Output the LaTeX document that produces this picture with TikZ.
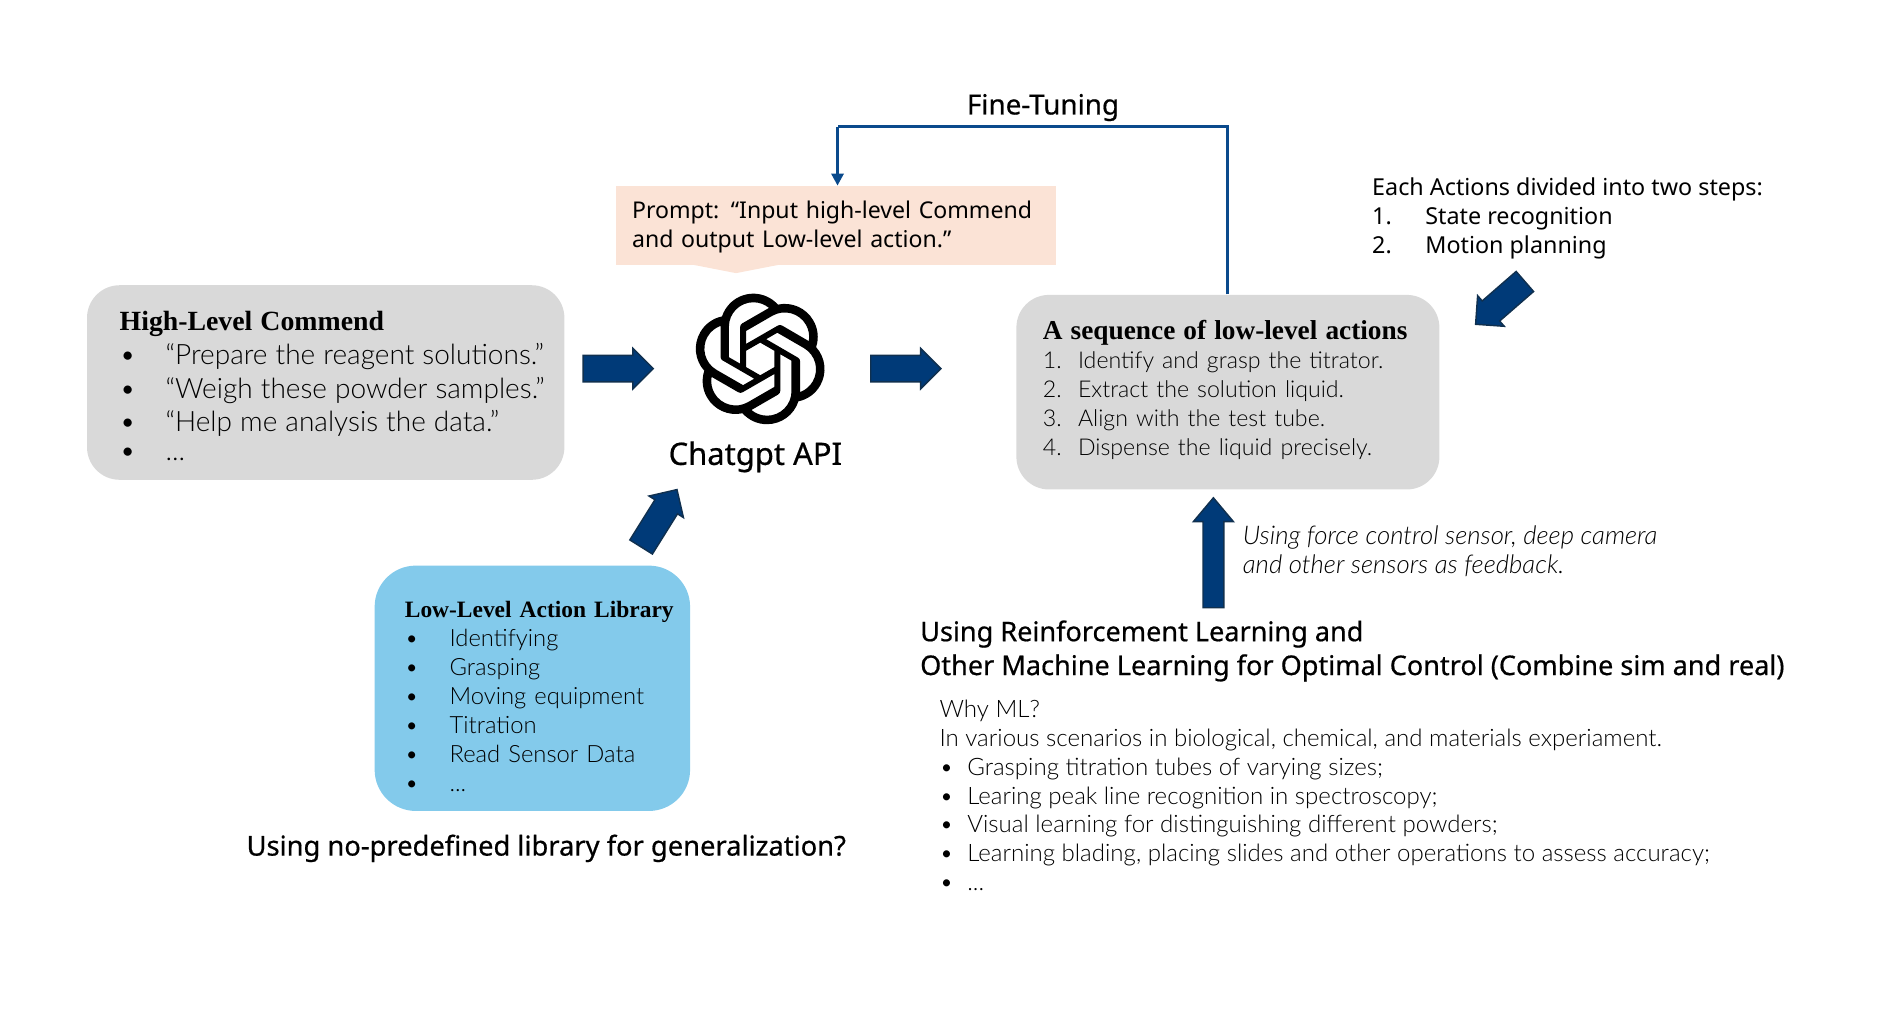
\documentclass[tikz,border=0pt]{standalone}
\usepackage{fontspec}
\setmainfont{Lato}[UprightFont=* Light, ItalicFont=* Light Italic, BoldFont=*]
\newfontfamily\headfont{Liberation Serif}[UprightFont=* Bold]
\newfontfamily\labelfont{Noto Sans}
\newfontfamily\medfont{Noto Sans}[FakeBold=0.6]
\usetikzlibrary{positioning,arrows.meta,shapes.arrows,svg.path}

\definecolor{boxgrey}{HTML}{D9D9D9}
\definecolor{libblue}{HTML}{83CAEB}
\definecolor{promptpink}{HTML}{FBE3D6}
\definecolor{arrowblue}{HTML}{003A78}
\definecolor{arrowedge}{HTML}{10304F}
\definecolor{tuneblue}{HTML}{0A4A8C}

\newcommand{\sized}[2]{\fontsize{#1}{#2}\selectfont}
\newcommand{\itemrow}[2]{\mbox{\makebox[#1][l]{\textbullet}#2}}
\newcommand{\numrow}[3]{\makebox[#1][l]{#2}#3}

\tikzset{
    cardbox/.style={fill=#1, rounded corners=13.5pt, align=left, inner xsep=13.5pt, inner ysep=0pt},
    blockarrow/.style={single arrow, fill=arrowblue, draw=arrowedge, line width=0.6pt, inner xsep=0pt, inner ysep=5.2pt,
        minimum width=16.5pt, minimum height=29pt, single arrow head extend=2.9pt,
        single arrow tip angle=90, single arrow head indent=0pt},
    plainlabel/.style={align=left, inner sep=0pt, anchor=north west},
    tuneline/.style={draw=tuneblue, line width=1.2pt},
}

\begin{document}
\begin{tikzpicture}[x=0.5pt, y=-0.5pt]
    \useasboundingbox (0,0) rectangle (1568,852);

    % command card and action library
    \node [cardbox=boxgrey, text width=170.5pt, minimum height=80.5pt] (high) at (269.5,316.5)
        {\sized{11.6}{14}\rule{0pt}{11pt}{\headfont\sized{11.5}{14}High-Level Commend}\\
         \itemrow{19pt}{“Prepare the reagent solutions.”}\\
         \itemrow{19pt}{“Weigh these powder samples.”}\\
         \itemrow{19pt}{“Help me analysis the data.”}\\
         \itemrow{19pt}{...}};
    \node [cardbox=libblue, rounded corners=17pt, inner xsep=12.5pt, text width=105.5pt, minimum height=101.5pt] (library) at (440.5,569.5)
        {\sized{9.85}{12}\rule{0pt}{13.5pt}\makebox[0pt][l]{\headfont\sized{9.7}{12}Low-Level Action Library}\\
         \itemrow{18.5pt}{Identifying}\\
         \itemrow{18.5pt}{Grasping}\\
         \itemrow{18.5pt}{Moving equipment}\\
         \itemrow{18.5pt}{Titration}\\
         \itemrow{18.5pt}{Read Sensor Data}\\
         \itemrow{18.5pt}{...}};
    \node [plainlabel, anchor=center, font={\medfont\sized{11.3}{14}}] (generalize) at (452,702) {Using no-predefined library for generalization?};

    % prompt and logo
    \node [fill=promptpink, minimum width=182pt, minimum height=32.5pt, inner sep=0pt, text width=169pt, align=left,
        font={\labelfont\sized{9.55}{12}}] (prompt) at (692,186.5)
        {\rule{0pt}{8.3pt}Prompt: “Input high-level Commend\\and output Low-level action.”};
    \fill [promptpink] (573,219) -- (609,226) -- (645,219) -- cycle;
    \begin{scope}[shift={(575,243)}]
        \fill [black, even odd rule] svg[scale=2.25,yscale=-1] "M 22.2819 9.8211 a 5.9847 5.9847 0 0 0 -0.5157 -4.9108 a 6.0462 6.0462 0 0 0 -6.5098 -2.9 A 6.0651 6.0651 0 0 0 4.9807 4.1818 a 5.9847 5.9847 0 0 0 -3.9977 2.9 a 6.0462 6.0462 0 0 0 0.7427 7.0966 a 5.98 5.98 0 0 0 0.511 4.9107 a 6.051 6.051 0 0 0 6.5146 2.9001 A 5.9847 5.9847 0 0 0 13.2599 24 a 6.0557 6.0557 0 0 0 5.7718 -4.2058 a 5.9894 5.9894 0 0 0 3.9977 -2.9001 a 6.0557 6.0557 0 0 0 -0.7475 -7.0729 z M 13.2599 22.4292 a 4.4755 4.4755 0 0 1 -2.8764 -1.0408 l 0.1419 -0.0804 l 4.7783 -2.7582 a 0.7948 0.7948 0 0 0 0.3927 -0.6813 v -6.7369 l 2.02 1.1686 a 0.071 0.071 0 0 1 0.038 0.052 v 5.5826 a 4.504 4.504 0 0 1 -4.4945 4.4944 z M 3.5992 18.3038 a 4.4708 4.4708 0 0 1 -0.5346 -3.0137 l 0.142 0.0852 l 4.783 2.7582 a 0.7712 0.7712 0 0 0 0.7806 0 l 5.8428 -3.3685 v 2.3324 a 0.0804 0.0804 0 0 1 -0.0332 0.0615 L 9.74 19.9502 a 4.4992 4.4992 0 0 1 -6.1408 -1.6464 z M 2.3408 7.8956 a 4.485 4.485 0 0 1 2.3655 -1.9728 V 11.6 a 0.7664 0.7664 0 0 0 0.3879 0.6765 l 5.8144 3.3543 l -2.0201 1.1685 a 0.0757 0.0757 0 0 1 -0.071 0 l -4.8303 -2.7865 A 4.504 4.504 0 0 1 2.3408 7.872 z M 18.9371 11.7514 L 13.1038 8.364 L 15.1192 7.2 a 0.0757 0.0757 0 0 1 0.071 0 l 4.8303 2.7913 a 4.4944 4.4944 0 0 1 -0.6765 8.1042 v -5.6772 a 0.79 0.79 0 0 0 -0.407 -0.667 z M 20.9478 8.7283 l -0.142 -0.0852 l -4.7735 -2.7818 a 0.7759 0.7759 0 0 0 -0.7854 0 L 9.409 9.2297 V 6.8974 a 0.0662 0.0662 0 0 1 0.0284 -0.0615 l 4.8303 -2.7866 a 4.4992 4.4992 0 0 1 6.6802 4.66 z M 8.3065 12.863 l -2.02 -1.1638 a 0.0804 0.0804 0 0 1 -0.038 -0.0567 V 6.0742 a 4.4992 4.4992 0 0 1 7.3757 -3.4537 l -0.142 0.0805 L 8.704 5.459 a 0.7948 0.7948 0 0 0 -0.3927 0.6813 z M 9.4041 10.4976 l 2.602 -1.4998 l 2.6069 1.4998 v 2.9994 l -2.5974 1.4997 l -2.6067 -1.4997 z";
    \end{scope}
    \node [plainlabel, anchor=center, font={\medfont\sized{12.8}{16}}] (api) at (625,378) {Chatgpt API};

    % low-level sequence with its notes
    \node [cardbox=boxgrey, inner xsep=11pt, text width=153pt, minimum height=80.5pt] (seq) at (1016,324.5)
        {\sized{9.58}{12}{\headfont\sized{11.3}{12}A sequence of low-level actions}\\
         \numrow{14.5pt}{1.}{Identify and grasp the titrator.}\\
         \numrow{14.5pt}{2.}{Extract the solution liquid.}\\
         \numrow{14.5pt}{3.}{Align with the test tube.}\\
         \numrow{14.5pt}{4.}{Dispense the liquid precisely.}\\[-8.5pt]\mbox{}};
    \node [plainlabel, font={\labelfont\sized{9.65}{12}}] (steps) at (1135,146.5)
        {Each Actions divided into two steps:\\
         \numrow{22pt}{1.}{State recognition}\\
         \numrow{22pt}{2.}{Motion planning}};
    \node [plainlabel, font={\itshape\sized{10.66}{12}}] (sensors) at (1028,435)
        {Using force control sensor, deep camera\\and other sensors as feedback.};
    \node [plainlabel, font={\medfont\sized{11.2}{14}}] (learning) at (761,513)
        {Using Reinforcement Learning and\\Other Machine Learning for Optimal Control (Combine sim and real)};
    \node [plainlabel, font={\sized{9.95}{11.9}}] (whyml) at (777,579)
        {Why ML?\\
         In various scenarios in biological, chemical, and materials experiament.\\
         \itemrow{11.5pt}{Grasping titration tubes of varying sizes;}\\
         \itemrow{11.5pt}{Learing peak line recognition in spectroscopy;}\\
         \itemrow{11.5pt}{Visual learning for distinguishing different powders;}\\
         \itemrow{11.5pt}{Learning blading, placing slides and other operations to assess accuracy;}\\
         \itemrow{11.5pt}{...}};

    % block arrows
    \node [blockarrow] (toapi) at (506,305) {};
    \node [blockarrow] (toseq) at (744,305) {};
    \node [blockarrow, rotate=58, minimum height=28pt] (fromlib) at (542.4,433.5) {};
    \node [blockarrow, rotate=90, minimum height=45.5pt, inner ysep=4pt, single arrow head extend=4pt, single arrow tip angle=80] (feedback) at (1004,462.5) {};
    \node [blockarrow, rotate=221, minimum height=27pt] (fromsteps) at (1245.5,247) {};

    % fine-tuning loop
    \coordinate (loopright) at (1016,105);
    \coordinate (loopleft) at (693,105);
    \draw [tuneline] (seq.north) -- (loopright) -- (loopleft);
    \draw [tuneline, -{Triangle[length=5pt,width=5pt]}] (loopleft) -- (loopleft |- prompt.north);
    \node [font={\medfont\sized{11.5}{14}}, inner sep=0pt] (tuning) at (863,89) {Fine-Tuning};
\end{tikzpicture}
\end{document}
